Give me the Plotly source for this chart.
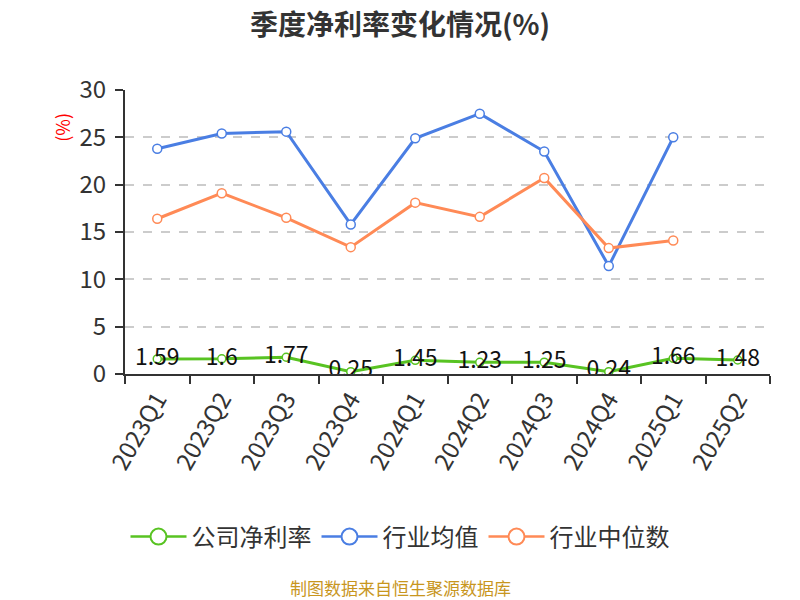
import plotly.graph_objects as go

quarters = ["2023Q1", "2023Q2", "2023Q3", "2023Q4", "2024Q1", "2024Q2",
            "2024Q3", "2024Q4", "2025Q1", "2025Q2"]
company = [1.59, 1.6, 1.77, 0.25, 1.45, 1.23, 1.25, 0.24, 1.66, 1.48]
industry_avg = [23.8, 25.4, 25.6, 15.8, 24.9, 27.5, 23.5, 11.4, 25.0, None]
industry_median = [16.4, 19.1, 16.5, 13.4, 18.1, 16.6, 20.7, 13.3, 14.1, None]
series_names = ["公司净利率", "行业均值", "行业中位数"]

FONT = "Noto Sans CJK SC"
GREEN = "#58C322"
BLUE = "#4A7EE3"
ORANGE = "#FF8A56"
colors = [GREEN, BLUE, ORANGE]

PAGE_CENTER_X = (400 - 125) / 645  # page centre in plot-paper coordinates

fig = go.Figure()
fig.add_trace(go.Scatter(
    x=quarters, y=company, name=series_names[0], mode="lines+markers+text",
    line=dict(color=GREEN, width=3), showlegend=False,
    marker=dict(symbol="circle", size=8, color="white", line=dict(color=GREEN, width=1.5)),
    text=[str(v) for v in company], textposition="middle center",
    textfont=dict(family=FONT, size=23, color="#111111"),
))
fig.add_trace(go.Scatter(
    x=quarters, y=industry_avg, name=series_names[1], mode="lines+markers",
    line=dict(color=BLUE, width=3), showlegend=False,
    marker=dict(symbol="circle", size=9, color="white", line=dict(color=BLUE, width=1.5)),
))
fig.add_trace(go.Scatter(
    x=quarters, y=industry_median, name=series_names[2], mode="lines+markers",
    line=dict(color=ORANGE, width=3), showlegend=False,
    marker=dict(symbol="circle", size=9, color="white", line=dict(color=ORANGE, width=1.5)),
))
# legend entries with larger symbols
for nm, c in zip(series_names, colors):
    fig.add_trace(go.Scatter(
        x=[None], y=[None], name=nm, mode="lines+markers",
        line=dict(color=c, width=2.5),
        marker=dict(symbol="circle", size=22, color="white", line=dict(color=c, width=2)),
    ))

fig.update_layout(
    width=800, height=600,
    margin=dict(l=125, r=30, t=90, b=226),
    paper_bgcolor="white", plot_bgcolor="white",
    font=dict(family=FONT, color="#333333"),
    title=dict(text="<b>季度净利率变化情况(%)</b>", x=0.5, xanchor="center",
               y=0.958, yanchor="middle",
               font=dict(family=FONT, size=28, color="#333333")),
    showlegend=True,
    legend=dict(orientation="h", x=PAGE_CENTER_X, xanchor="center", y=-0.574, yanchor="middle",
                font=dict(family=FONT, size=24, color="#333333"),
                itemwidth=56),
    annotations=[
        dict(text="(%)", textangle=-90, x=-0.098, y=0.87, xref="paper", yref="paper",
             xanchor="center", yanchor="middle",
             showarrow=False, font=dict(family=FONT, size=18, color="red")),
        dict(text="制图数据来自恒生聚源数据库", x=PAGE_CENTER_X, y=-0.752, xref="paper", yref="paper",
             xanchor="center", yanchor="middle", showarrow=False,
             font=dict(family=FONT, size=17, color="#C8961E")),
    ],
)
fig.update_xaxes(
    type="category", showline=True, linecolor="#333333", linewidth=2,
    ticks="outside", ticklen=8, tickcolor="#333333", tickwidth=2, tickson="boundaries",
    tickangle=-60, tickfont=dict(family=FONT, size=24, color="#333333"),
    showgrid=False, range=[-0.5, 9.5],
)
fig.update_yaxes(
    range=[0, 30], tickvals=[0, 5, 10, 15, 20, 25, 30],
    showline=True, linecolor="#333333", linewidth=2,
    ticks="outside", ticklen=8, tickcolor="#333333", tickwidth=2,
    ticklabelstandoff=4,
    tickfont=dict(family=FONT, size=24, color="#333333"),
    showgrid=True, gridcolor="#CCCCCC", griddash="dash", gridwidth=1.5,
    zeroline=False,
)

fig.write_html("out.html")
